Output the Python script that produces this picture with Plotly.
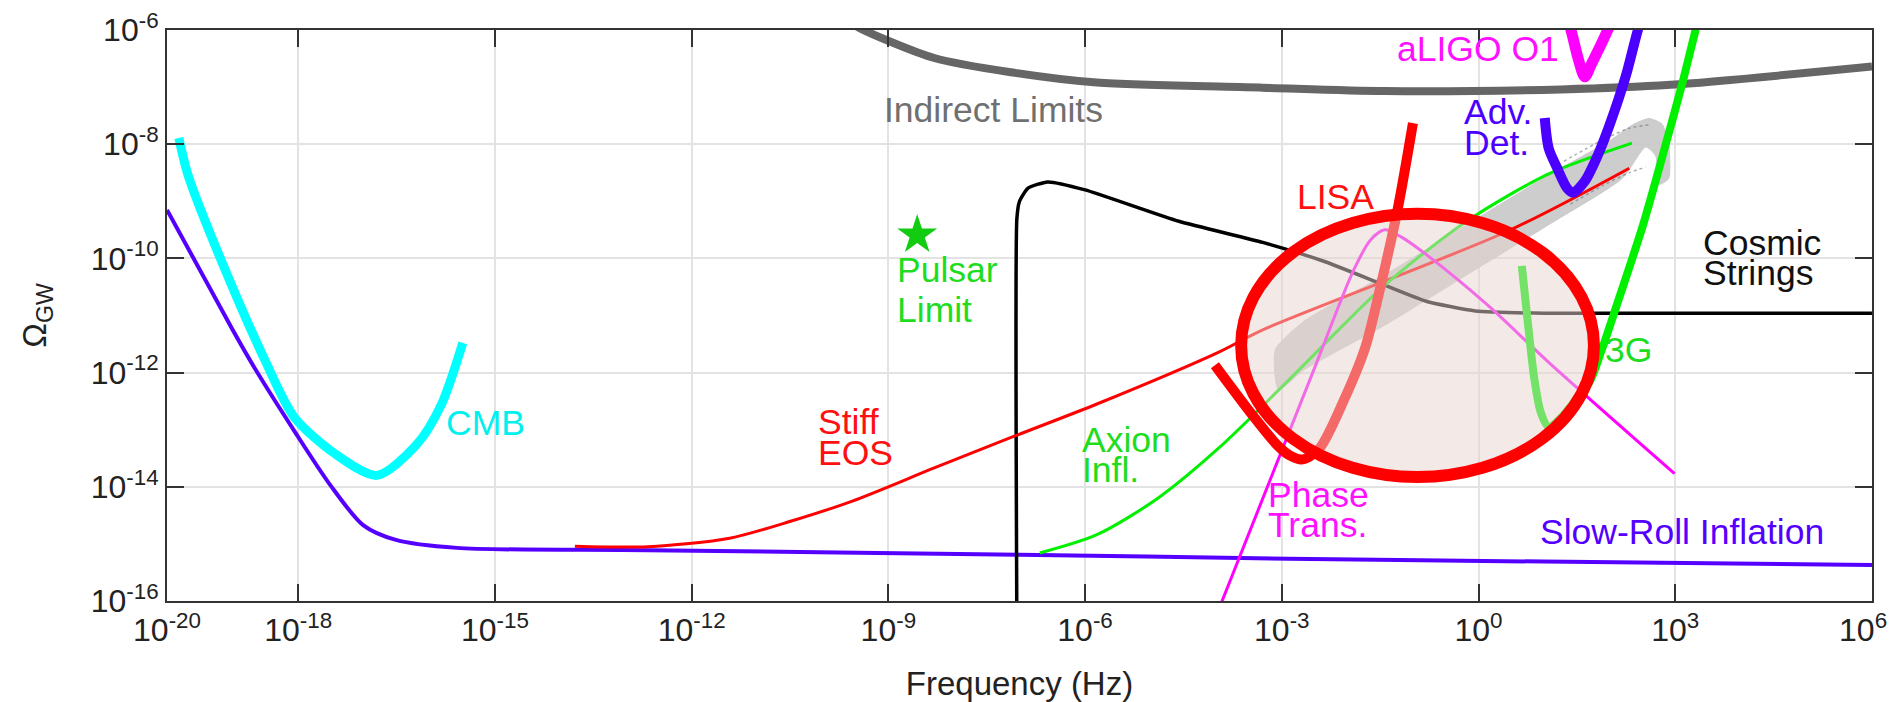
import numpy as np
import plotly.graph_objects as go

# ---------------- data (log10 frequency [Hz], log10 Omega_GW) ----------------
x_tick_exp = [-20, -18, -15, -12, -9, -6, -3, 0, 3, 6]
y_tick_exp = [-16, -14, -12, -10, -8, -6]

slowroll_logf = [-20.0, -19.0, -18.69, -18.06, -17.51, -17.01, -16.51, -15.58, -12.67, -7.0, -2.9, 1.0, 6.0]
slowroll_logO = [-9.15, -11.25, -11.87, -13.02, -13.97, -14.67, -14.93, -15.07, -15.11, -15.19, -15.26, -15.31, -15.37]

cmb_logf = [-19.82, -19.68, -19.19, -18.5, -18.06, -17.44, -16.8, -16.2, -15.82, -15.49]
cmb_logO = [-7.89, -8.54, -9.99, -11.8, -12.78, -13.42, -13.8, -13.27, -12.57, -11.48]

indirect_logf = [-9.6, -9.43, -8.30, -7.07, -5.82, -3.29, -1.43, 1.26, 2.93, 6.0]
indirect_logO = [-5.85, -5.97, -6.49, -6.75, -6.92, -7.01, -7.07, -7.04, -6.96, -6.64]

strings_logf = [-7.04, -7.04, -7.0, -6.87, -6.57, -6.0, -4.57, -3.29, -2.36, -1.43, -0.80, -0.05, 1.0, 6.0]
strings_logO = [-16.5, -9.3, -9.0, -8.77, -8.66, -8.80, -9.35, -9.72, -10.05, -10.47, -10.75, -10.92, -10.96, -10.96]

stiff_logf = [-13.78, -12.67, -11.42, -10.48, -9.55, -8.30, -7.07, -5.82, -3.96, -3.29, 0.45, 2.30]
stiff_logO = [-15.04, -15.05, -14.90, -14.60, -14.25, -13.67, -13.11, -12.55, -11.64, -11.25, -9.52, -8.42]

axion_logf = [-6.69, -5.82, -4.89, -3.96, -2.91, -1.43, -0.18, 1.07, 2.34]
axion_logO = [-15.16, -14.84, -14.20, -13.32, -12.15, -10.47, -9.35, -8.52, -7.98]

phase_logf = [-4.0, -2.95, -2.48, -1.91, -1.65, -1.43, -1.2, -0.8, 0.14, 1.07, 2.99]
phase_logO = [-16.26, -13.22, -11.86, -10.22, -9.68, -9.50, -9.61, -9.93, -10.82, -11.82, -13.77]

lisa_logf = [-4.02, -3.45, -3.07, -2.88, -2.68, -2.42, -2.04, -1.73, -1.49, -1.23, -1.0]
lisa_logO = [-11.87, -12.74, -13.27, -13.45, -13.52, -13.32, -12.45, -11.57, -10.47, -9.12, -7.63]

aligo_logf = [1.25, 1.41, 1.52, 1.62, 1.72, 1.97, 2.15]
aligo_logO = [-5.4, -6.0, -6.5, -6.82, -6.6, -6.0, -5.5]

advdet_logf = [1.01, 1.07, 1.20, 1.35, 1.44, 1.62, 1.82, 2.0, 2.25, 2.43, 2.6]
advdet_logO = [-7.54, -8.07, -8.42, -8.77, -8.85, -8.65, -8.19, -7.66, -6.79, -6.0, -5.4]

g3_logf = [0.66, 0.75, 0.85, 0.95, 1.07, 1.25, 1.5, 1.70, 1.88, 2.07, 2.51, 2.87, 3.12, 3.31, 3.45]
g3_logO = [-10.13, -11.1, -12.1, -12.7, -12.95, -12.8, -12.45, -12.15, -11.6, -10.95, -9.41, -7.94, -6.88, -6.0, -5.4]

band_logf = [-3.1, -2.66, -1.43, -0.18, 1.07, 2.0, 2.35, 2.60, 2.80, 2.90, 2.90, 2.76,
             2.70, 2.55, 2.19, 1.07, -0.18, -1.43, -2.66, -3.05, -3.1]
band_logO = [-11.6, -11.10, -10.29, -9.41, -8.54, -7.94, -7.66, -7.55, -7.65, -8.0, -8.6, -8.7,
             -8.2, -8.05, -8.6, -9.41, -10.29, -11.17, -11.95, -12.3, -11.6]

band_dots_up_logf = [1.3, 1.9, 2.3, 2.6]
band_dots_up_logO = [-8.30, -7.92, -7.72, -7.66]
band_dots_lo_logf = [1.4, 1.9, 2.3, 2.55]
band_dots_lo_logO = [-9.05, -8.72, -8.50, -8.40]

pulsar_logf = [-8.56]
pulsar_logO = [-9.59]

# highlighted region (ellipse bounds)
ellipse_logf = [-3.62, 1.76]
ellipse_logO = [-13.83, -9.22]

# labels: (text, log f, log Omega, colour)
labels = [
    ("Indirect Limits", -8.99, -7.54, "#707070"),
    ("Pulsar", -8.79, -10.34, "#1EDC1E"),
    ("Limit", -8.79, -11.04, "#1EDC1E"),
    ("CMB", -15.67, -13.02, "#00F0F0"),
    ("Stiff", -10.0, -13.0, "#FF1010"),
    ("EOS", -10.0, -13.55, "#FF1010"),
    ("Axion", -5.97, -13.32, "#1EDC1E"),
    ("Infl.", -5.97, -13.85, "#1EDC1E"),
    ("Phase", -3.13, -14.28, "#FF10FF"),
    ("Trans.", -3.13, -14.81, "#FF10FF"),
    ("Slow-Roll Inflation", 1.01, -14.93, "#5500FF"),
    ("LISA", -2.69, -9.06, "#FF1010"),
    ("aLIGO O1", -1.17, -6.47, "#FF10FF"),
    ("Adv.", -0.15, -7.58, "#4B00FF"),
    ("Det.", -0.15, -8.12, "#4B00FF"),
    ("3G", 2.0, -11.74, "#1EDC1E"),
    ("Cosmic", 3.50, -9.87, "#111111"),
    ("Strings", 3.50, -10.40, "#111111"),
]

FONT = "Liberation Sans, Arial, Helvetica, sans-serif"


def P(v):
    return 10 ** np.array(v, dtype=float)


fig = go.Figure()


def add_line(lf, lo, color, width, smooth=0.8, dash="solid"):
    fig.add_trace(go.Scatter(
        x=P(lf), y=P(lo), mode="lines",
        line=dict(color=color, width=width, shape="spline", smoothing=smooth, dash=dash),
        hoverinfo="skip", showlegend=False))


# gray band
fig.add_trace(go.Scatter(
    x=P(band_logf), y=P(band_logO), mode="lines", fill="toself",
    fillcolor="rgba(200,200,200,0.9)", line=dict(color="rgba(200,200,200,0.9)", width=1,
                                                  shape="spline", smoothing=0.6),
    hoverinfo="skip", showlegend=False))
add_line(band_dots_up_logf, band_dots_up_logO, "rgba(110,110,110,0.55)", 1.5, dash="dot")
add_line(band_dots_lo_logf, band_dots_lo_logO, "rgba(110,110,110,0.55)", 1.5, dash="dot")

add_line(slowroll_logf, slowroll_logO, "#5500FF", 4)
add_line(indirect_logf, indirect_logO, "#666666", 8)
add_line(strings_logf, strings_logO, "#000000", 3.5, 0.5)
add_line(stiff_logf, stiff_logO, "#FF0000", 3)
add_line(axion_logf, axion_logO, "#00F000", 3)
add_line(phase_logf, phase_logO, "#FF00FF", 3)
add_line(cmb_logf, cmb_logO, "#00FFFF", 9)
add_line(lisa_logf, lisa_logO, "#FF0000", 10)
add_line(aligo_logf, aligo_logO, "#FF00FF", 11)
add_line(advdet_logf, advdet_logO, "#4B00FF", 10)
add_line(g3_logf, g3_logO, "#00F000", 8)

fig.add_trace(go.Scatter(
    x=P(pulsar_logf), y=P(pulsar_logO), mode="markers",
    marker=dict(symbol="star", size=30, color="#11CC11", line=dict(width=0)),
    hoverinfo="skip", showlegend=False))

# highlighted ellipse
fig.add_shape(type="circle", xref="x", yref="y",
              x0=10 ** ellipse_logf[0], x1=10 ** ellipse_logf[1],
              y0=10 ** ellipse_logO[0], y1=10 ** ellipse_logO[1],
              line=dict(color="#FF0000", width=12),
              fillcolor="rgba(232,212,208,0.5)", layer="above")

for text, lf, lo, col in labels:
    fig.add_annotation(x=lf, y=lo, xref="x", yref="y", text=text, showarrow=False,
                       xanchor="left", yanchor="middle", xshift=-7, yshift=8,
                       font=dict(family=FONT, size=35.5, color=col))

xt_vals = [10.0 ** e for e in x_tick_exp]
xt_text = ["10<sup>%d</sup>" % e for e in x_tick_exp]
xt_text[-1] = xt_text[-1] + "\u00a0\u00a0"   # keep the last label inside the page
yt_vals = [10.0 ** e for e in y_tick_exp]
yt_text = ["10<sup>%d</sup>" % e for e in y_tick_exp]

axis_common = dict(
    type="log", showline=True, linecolor="#333333", linewidth=2, mirror="ticks",
    ticks="inside", ticklen=17, tickwidth=2, tickcolor="#333333",
    showgrid=True, gridcolor="#E3E3E3", gridwidth=1.5, zeroline=False,
    ticklabeloverflow="allow", automargin=False,
    tickfont=dict(family=FONT, size=32, color="#222222"),
)

fig.update_layout(
    width=1895, height=702, autosize=False,
    margin=dict(l=159, r=31, t=22, b=109),
    paper_bgcolor="white", plot_bgcolor="white",
    xaxis=dict(range=[-20.0005, 6.0005], tickvals=xt_vals, ticktext=xt_text,
               title=dict(text="Frequency (Hz)", font=dict(family=FONT, size=33, color="#222222"),
                          standoff=24), **axis_common),
    yaxis=dict(range=[-16.0005, -5.9995], tickvals=yt_vals, ticktext=yt_text,
               title=dict(text="Ω<sub>GW</sub>", font=dict(family=FONT, size=33, color="#222222"),
                          standoff=34), **axis_common),
)

fig.write_html("out.html")
